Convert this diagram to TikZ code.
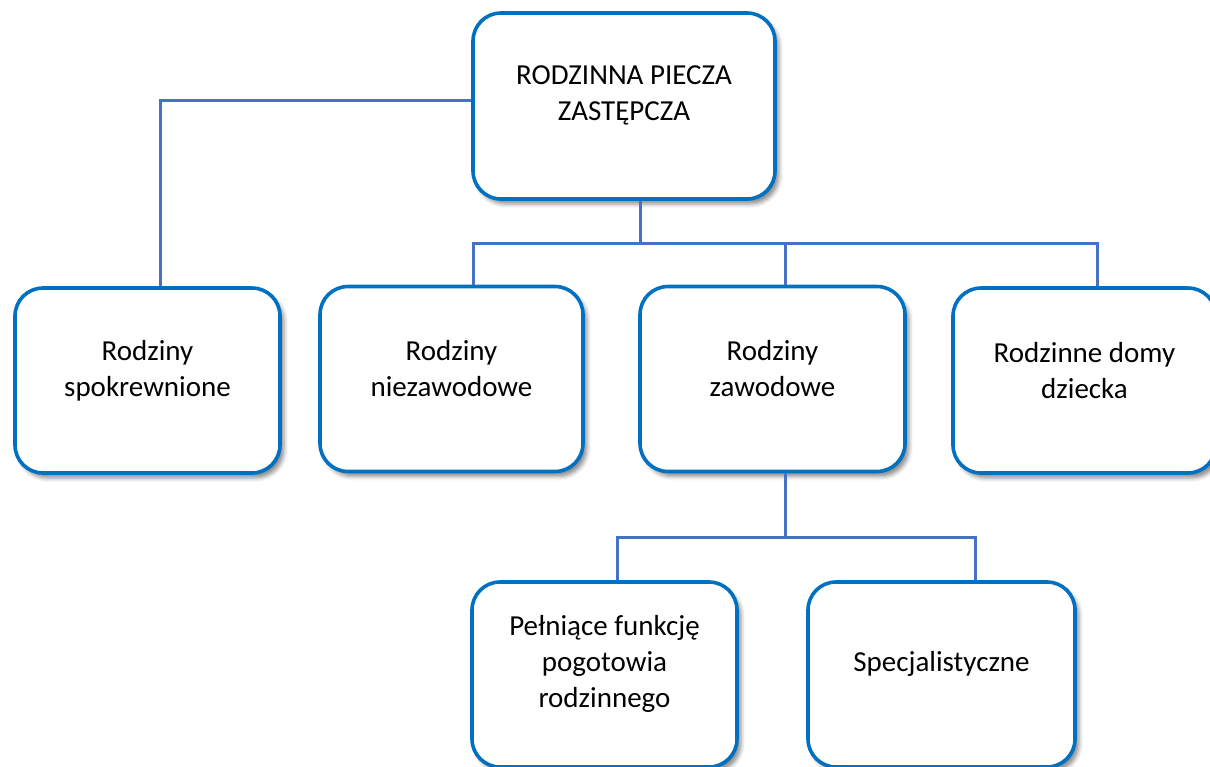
\documentclass[tikz,border=0pt]{standalone}
\usepackage{fontspec}
\setmainfont{Carlito}
\usetikzlibrary{shadows.blur}
\definecolor{boxblue}{HTML}{0070C0}
\definecolor{linkblue}{HTML}{4472C4}
\tikzset{
  box/.style={draw=boxblue, line width=3.6pt, fill=white, rounded corners=28pt,
    minimum width=#1, minimum height=185pt, inner sep=0pt,
    blur shadow={shadow xshift=4pt, shadow yshift=-5pt, shadow blur radius=4pt, shadow opacity=45}},
  box/.default=265pt,
  txt/.style={align=center, font=\fontsize{29}{36}\selectfont, inner sep=0pt},
  link/.style={draw=linkblue, line width=3pt}
}
\begin{document}
\begin{tikzpicture}[x=1pt,y=-1pt]
\useasboundingbox (0,0) rectangle (1210,766);
% connectors first (behind boxes)
\coordinate (lt) at (160,100);
\coordinate (busL) at (473,243);
\coordinate (busM) at (640,243);
\coordinate (busC) at (785,243);
\coordinate (busR) at (1097,243);
\coordinate (sub) at (785,537);
\coordinate (subL) at (617,537);
\coordinate (subR) at (975,537);
% boxes
\node[box=302pt, minimum height=186pt] (top) at (624,106) {};
\node[box] (b1) at (147.5,380.5) {};
\node[box=263pt] (b2) at (451.5,379) {};
\node[box] (b3) at (772.5,379) {};
\node[box=263pt] (b4) at (1084.5,380.5) {};
\node[box] (b5) at (604.5,674.5) {};
\node[box=267pt] (b6) at (941.5,674.5) {};
% texts
\node[txt] (t0) at ([yshift=11pt]top.center) {RODZINNA PIECZA\\ZASTĘPCZA};
\node[txt] (t1) at ([yshift=10pt]b1.center) {Rodziny\\spokrewnione};
\node[txt] (t2) at ([yshift=10pt]b2.center) {Rodziny\\niezawodowe};
\node[txt] (t3) at ([yshift=10pt]b3.center) {Rodziny\\zawodowe};
\node[txt] (t4) at ([yshift=10pt]b4.center) {Rodzinne domy\\dziecka};
\node[txt] (t5) at ([yshift=11pt]b5.center) {Pełniące funkcję\\pogotowia\\rodzinnego};
\node[txt] (t6) at ([yshift=11pt]b6.center) {Specjalistyczne};
% links
\draw[link] (top.west |- lt) -- (lt) -- (lt |- b1.north);
\draw[link] (busM |- top.south) -- (busM);
\draw[link] (busL |- b2.north) -- (busL) -- (busR) -- (busR |- b4.north);
\draw[link] (busC) -- (busC |- b3.north);
\draw[link] (sub |- b3.south) -- (sub);
\draw[link] (subL |- b5.north) -- (subL) -- (subR) -- (subR |- b6.north);
\end{tikzpicture}
\end{document}
